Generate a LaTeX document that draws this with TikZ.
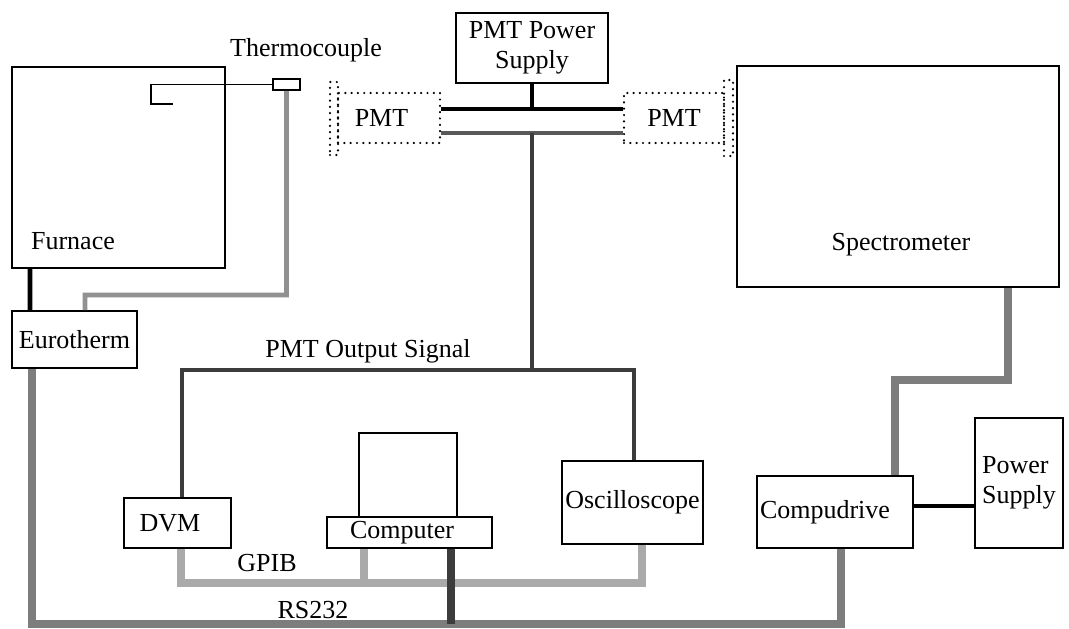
\documentclass[tikz,border=0pt]{standalone}
\usepackage{fontspec}
\setmainfont{Liberation Serif}
\usetikzlibrary{positioning}
\definecolor{busgray}{RGB}{125,125,125}
\definecolor{gpibgray}{RGB}{170,170,170}
\definecolor{wiregray}{RGB}{145,145,145}
\definecolor{darkwire}{RGB}{60,60,60}

\begin{document}
\begin{tikzpicture}[x=0.02cm, y=-0.02cm,
    unit/.style={rectangle, draw=black, line width=1.1pt, align=center,
                 font=\fontsize{14.8}{17}\selectfont, inner sep=1pt},
    pmtbox/.style={rectangle, draw=black, line width=1.4pt, line cap=round,
                   dash pattern=on 0pt off 3.6pt, align=center,
                   font=\fontsize{14.8}{17}\selectfont, inner sep=1pt},
    lbl/.style={font=\fontsize{14.8}{17}\selectfont, inner sep=0pt},
    hv/.style={line width=2.7pt, black},
    sig/.style={line width=2.1pt, darkwire},
    bus/.style={line width=4.3pt, busgray},
    gpib/.style={line width=4pt, gpibgray},
    tcwire/.style={line width=2.7pt, wiregray},
    probe/.style={line width=1.1pt, black}
]
\useasboundingbox (0,0) rectangle (1069,629);

\node[unit, minimum width=4.26cm, minimum height=4.02cm] (furnace) at (118.5,167.5) {};
\node[lbl] (furnacelbl) at (73,241) {Furnace};
\node[unit, minimum width=0.54cm, minimum height=0.22cm, inner sep=0pt] (tc) at (286.5,84.5) {};
\node[lbl] (tclbl) at (306,50) {Thermocouple};
\node[unit, minimum width=2.5cm, minimum height=1.14cm] (eurotherm) at (74.5,339.5) {Eurotherm};

\node[unit, minimum width=3.04cm, minimum height=1.4cm] (pmtps) at (532,48) {PMT Power\\Supply};
\node[pmtbox, minimum width=2.04cm, minimum height=1.0cm] (pmtL) at (389,118) {\hspace*{-0.3cm}PMT};
\node[pmtbox, minimum width=0.16cm, minimum height=1.46cm] (plateL) at (334,118.5) {};
\node[pmtbox, minimum width=2.0cm, minimum height=1.0cm] (pmtR) at (674,118) {PMT};
\node[pmtbox, minimum width=0.18cm, minimum height=1.52cm] (plateR) at (728.5,118) {};

\node[unit, minimum width=6.44cm, minimum height=4.42cm] (spectro) at (898,176.5) {};
\node[lbl] (spectrolbl) at (901,245) {Spectrometer};

\node[unit, minimum width=2.14cm, minimum height=1.0cm] (dvm) at (177.5,523) {\hspace*{-0.3cm}DVM};
\node[unit, minimum width=1.96cm, minimum height=1.68cm] (monitor) at (408,475) {};
\node[unit, minimum width=3.3cm, minimum height=0.62cm] (computer) at (409.5,532.5) {\hspace*{-0.3cm}Computer};
\node[unit, minimum width=2.82cm, minimum height=1.66cm] (osc) at (632.5,502.5) {Oscilloscope};
\node[unit, minimum width=3.12cm, minimum height=1.44cm] (compud) at (835,512) {\hspace*{-0.4cm}Compudrive};
\node[unit, minimum width=1.76cm, minimum height=2.6cm, align=left] (psu) at (1019,483) {Power\\Supply};

\node[lbl] (siglbl) at (368,351) {PMT Output Signal};
\node[lbl] (gpiblbl) at (267,563) {GPIB};
\node[lbl] (rslbl) at (313,610) {RS232};

\coordinate (hvL) at ([yshift=0.18cm]pmtL.east);
\coordinate (hvR) at ([yshift=0.18cm]pmtR.west);
\coordinate (sgL) at ([yshift=-0.3cm]pmtL.east);
\coordinate (sgR) at ([yshift=-0.3cm]pmtR.west);
\coordinate (sigL) at (182,370);
\coordinate (sigC) at (532,370);
\coordinate (sigR) at (634,370);
\coordinate (gpL) at (181,583);
\coordinate (gpC) at (364,583);
\coordinate (gpR) at (642,583);
\coordinate (rsL) at (32,624);
\coordinate (rsC) at (451,624);
\coordinate (rsR) at (841,624);
\coordinate (mvA) at (1008,380);
\coordinate (mvB) at (895,380);
\coordinate (pwA) at ([yshift=0.12cm]compud.east);
\coordinate (tcA) at (151,104);

\draw[probe] (tc.west) -- (tc.west -| tcA) -- (tcA) -- ++(22,0);
\draw[tcwire] (tc.south) |- (85,295) -- ([xshift=0.21cm]eurotherm.north);
\draw[hv] ([xshift=-1.77cm]furnace.south) -- ([xshift=-0.89cm]eurotherm.north);

\draw[hv] (hvL) -- (hvR);
\draw[hv] (pmtps.south) -- (pmtps.south |- hvL);
\draw[line width=2.1pt, darkwire!85] (sgL) -- (sgR);
\draw[sig] (pmtps.south |- sgL) -- (sigC);
\draw[sig] (dvm.north -| sigL) -- (sigL) -- (sigR) -- (osc.north -| sigR);

\draw[gpib] (dvm.south -| gpL) -- (gpL) -- (gpR) -- (osc.south -| gpR);
\draw[gpib] (computer.south -| gpC) -- (gpC);

\draw[bus] (eurotherm.south -| rsL) -- (rsL) -- (rsR) -- (compud.south -| rsR);
\draw[bus, darkwire] (computer.south -| rsC) -- (rsC);

\draw[bus] (spectro.south -| mvA) -- (mvA) -- (mvB) -- (compud.north -| mvB);
\draw[hv] (pwA) -- (pwA -| psu.west);
\end{tikzpicture}
\end{document}
